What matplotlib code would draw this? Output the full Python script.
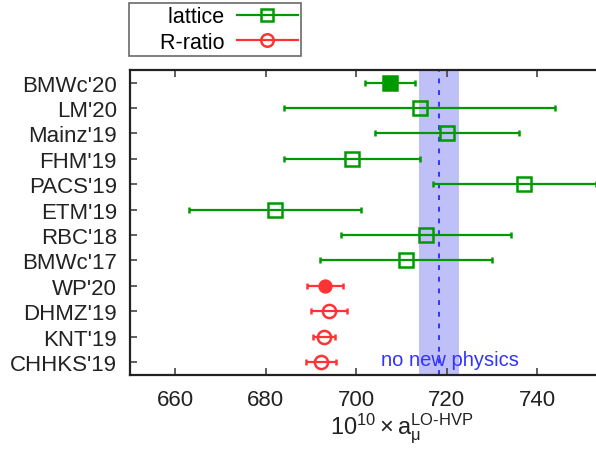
import numpy as np
import matplotlib
matplotlib.use("Agg")
import matplotlib.pyplot as plt
from matplotlib.lines import Line2D

plt.rcParams['font.family'] = ['Liberation Sans', 'DejaVu Sans']
plt.rcParams['mathtext.fontset'] = 'custom'
plt.rcParams['mathtext.rm'] = 'Liberation Sans'
plt.rcParams['mathtext.it'] = 'Liberation Sans'
plt.rcParams['mathtext.sf'] = 'Liberation Sans'

# data (top to bottom)
labels = ["BMWc'20", "LM'20", "Mainz'19", "FHM'19", "PACS'19", "ETM'19",
          "RBC'18", "BMWc'17", "WP'20", "DHMZ'19", "KNT'19", "CHHKS'19"]
values = [707.5, 714.0, 720.0, 699.0, 737.0, 682.0,
          715.4, 711.0, 693.1, 694.0, 692.8, 692.3]
err_lo = [5.5, 30.0, 15.9, 15.0, 20.0, 19.0, 18.7, 19.0, 4.0, 4.0, 2.4, 3.3]
err_hi = [5.5, 30.0, 15.9, 15.0, 16.0, 19.0, 18.7, 19.0, 4.0, 4.0, 2.4, 3.3]
kind = ['lattice'] * 8 + ['R-ratio'] * 4
filled = [True, False, False, False, False, False, False, False,
          True, False, False, False]

nnp_center = 718.3
nnp_err = 4.5

GREEN = '#009900'
RED = '#ff3333'
BLUE = '#3333ff'

fig = plt.figure(figsize=(5.96, 4.52), dpi=100)
ax = fig.add_axes([130 / 596, 76.3 / 452, 543 / 596, 304.7 / 452])

n = len(labels)
ypos = np.arange(n)[::-1]

# no-new-physics band
ax.axvspan(nnp_center - nnp_err, nnp_center + nnp_err, color='#c0c0f8', lw=0, zorder=1)
ax.axvline(nnp_center, color=BLUE, ls=(0, (2.5, 3.5)), lw=1.4, zorder=2)
ax.text(nnp_center + 2.3, ypos[-1] - 0.13, 'no new physics', color=BLUE,
        fontsize=14.5, ha='center', va='baseline', zorder=5)

for i in range(n):
    c = GREEN if kind[i] == 'lattice' else RED
    m = 's' if kind[i] == 'lattice' else 'o'
    if filled[i]:
        ms = 10.5 if m == 's' else 8.5
        mfc = c
    else:
        ms = 9.5 if m == 's' else 9.5
        mfc = 'none'
    ax.errorbar(values[i], ypos[i], xerr=[[err_lo[i]], [err_hi[i]]],
                fmt=m, color=c, ecolor=c, mfc=mfc, mec=c, ms=ms, mew=1.8,
                elinewidth=1.6, capsize=2.5, capthick=1.6, zorder=4,
                clip_on=False)

ax.set_xlim(650, 770)
ax.set_ylim(-0.5, n - 0.5)
ax.set_xticks([660, 680, 700, 720, 740])
ax.set_yticks(ypos)
ax.set_yticklabels(labels)
ax.tick_params(axis='x', direction='in', top=True, length=5, width=1.2,
               labelsize=16, pad=10, colors='#444444', labelcolor='#222222')
ax.tick_params(axis='y', direction='in', length=5, width=1.2,
               labelsize=16, pad=9.5, colors='#444444', labelcolor='#222222')
for s in ['left', 'bottom', 'top']:
    ax.spines[s].set_linewidth(1.6)
    ax.spines[s].set_color('#222222')
ax.spines['right'].set_visible(False)

ax.set_xlabel(r'$10^{10}\times \mathrm{a}_\mu^{\mathrm{LO\text{-}HVP}}$',
              fontsize=17, color='#222222', labelpad=1)

# legend
h_lat = Line2D([], [], color=GREEN, marker='s', mfc='none', mec=GREEN, ms=8.5, mew=1.8, lw=1.6)
h_rr = Line2D([], [], color=RED, marker='o', mfc='none', mec=RED, ms=9, mew=1.8, lw=1.6)
leg = fig.legend([h_lat, h_rr], ['      lattice', '    R-ratio'], loc='upper left',
                 bbox_to_anchor=(129 / 596, 1 - 4 / 452), markerfirst=False,
                 fontsize=15.5, frameon=True, fancybox=False, handlelength=2.8,
                 borderpad=0.15, labelspacing=0.22, handletextpad=0.6,
                 borderaxespad=0)
leg.get_frame().set_edgecolor('#444444')
leg.get_frame().set_linewidth(1.2)

fig.savefig('out.png', dpi=100)
